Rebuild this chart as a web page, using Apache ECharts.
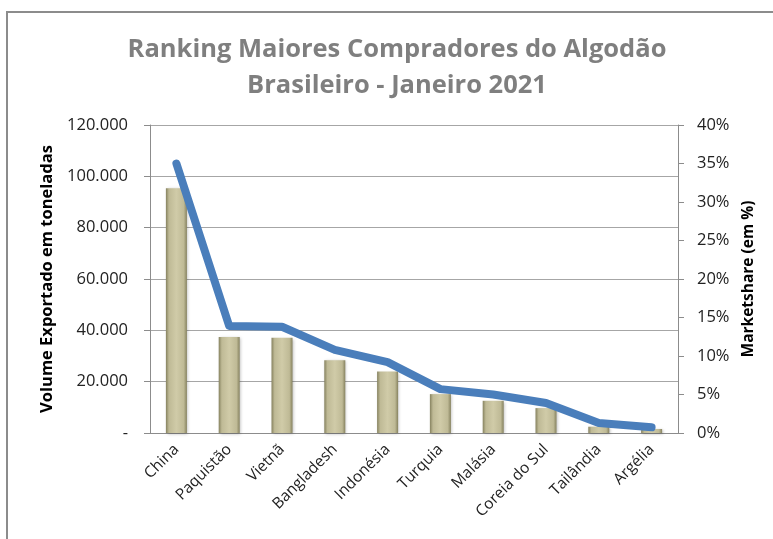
<!DOCTYPE html>
<html>
<head>
<meta charset="utf-8">
<script src="https://cdn.jsdelivr.net/npm/echarts@6/dist/echarts.min.js"></script>
<style>
  html, body { margin: 0; padding: 0; background: #fff; }
  #chart { width: 773px; height: 539px; }
</style>
</head>
<body>
<div id="chart"></div>
<script>
// países compradores
const paises = ['China', 'Paquistão', 'Vietnã', 'Bangladesh', 'Indonésia', 'Turquia', 'Malásia', 'Coreia do Sul', 'Tailândia', 'Argélia']
// volume exportado (toneladas)
const volumes = [95400, 37400, 37150, 28350, 23960, 15150, 12550, 9700, 2450, 1550]
// marketshare (%)
const marketshare = [35.0, 13.9, 13.8, 10.8, 9.2, 5.7, 5.0, 3.9, 1.3, 0.74]

const font = "'Open Sans', sans-serif"
const chart = echarts.init(document.getElementById('chart'))

const fmtMil = v => v === 0 ? '-' : String(v).replace(/\B(?=(\d{3})+(?!\d))/g, '.')

const option = {
  animation: false,
  textStyle: { fontFamily: font },
  title: {
    text: 'Ranking Maiores Compradores do Algodão\nBrasileiro - Janeiro 2021',
    left: 392,
    top: 27,
    textAlign: 'center',
    textStyle: {
      color: '#7f7f7f',
      fontSize: 25.5,
      fontWeight: 'bold',
      fontFamily: font,
      lineHeight: 36
    }
  },
  graphic: [{
    type: 'rect',
    shape: { x: 7, y: 12, width: 800, height: 560 },
    style: { fill: 'none', stroke: '#8c8c8c', lineWidth: 2 },
    silent: true
  }],
  grid: { left: 150, right: 95, top: 125, bottom: 106 },
  xAxis: {
    type: 'category',
    data: paises,
    axisLine: { lineStyle: { color: '#8c8c8c' } },
    axisTick: { length: 6, lineStyle: { color: '#8c8c8c' } },
    axisLabel: {
      rotate: 45,
      color: '#222',
      fontSize: 15.5,
      margin: 14,
      fontFamily: font
    }
  },
  yAxis: [{
    type: 'value',
    min: 0,
    max: 120000,
    interval: 20000,
    name: 'Volume Exportado em toneladas',
    nameLocation: 'middle',
    nameGap: 93,
    nameTextStyle: { color: '#000', fontSize: 16.5, fontWeight: 'bold', fontFamily: font },
    axisLine: { show: true, lineStyle: { color: '#8c8c8c' } },
    axisTick: { show: true, length: 6, lineStyle: { color: '#8c8c8c' } },
    axisLabel: { color: '#222', fontSize: 16.5, margin: 22, formatter: fmtMil, fontFamily: font },
    splitLine: { lineStyle: { color: '#a6a6a6' } }
  }, {
    type: 'value',
    min: 0,
    max: 40,
    interval: 5,
    name: 'Marketshare (em %)',
    nameLocation: 'middle',
    nameGap: 62,
    nameRotate: 90,
    nameTextStyle: { color: '#000', fontSize: 15.5, fontWeight: 'bold', fontFamily: font },
    axisLine: { show: true, lineStyle: { color: '#8c8c8c' } },
    axisTick: { show: true, length: 6, lineStyle: { color: '#8c8c8c' } },
    axisLabel: { color: '#222', fontSize: 16.5, margin: 19, formatter: '{value}%', fontFamily: font },
    splitLine: { show: false }
  }],
  series: [{
    name: 'Volume',
    type: 'bar',
    barWidth: 21,
    data: volumes,
    itemStyle: {
      color: new echarts.graphic.LinearGradient(0, 0, 1, 0, [
        { offset: 0, color: '#86825f' },
        { offset: 0.15, color: '#bfba96' },
        { offset: 0.5, color: '#d0cba8' },
        { offset: 0.85, color: '#bfba96' },
        { offset: 1, color: '#86825f' }
      ]),
      shadowColor: 'rgba(0,0,0,0.25)',
      shadowBlur: 3,
      shadowOffsetX: 1,
      shadowOffsetY: 1
    }
  }, {
    name: 'Marketshare',
    type: 'line',
    yAxisIndex: 1,
    data: marketshare,
    symbol: 'none',
    lineStyle: { color: '#4a7ebb', width: 8, cap: 'round', join: 'round' },
    z: 3
  }]
}

chart.setOption(option)
</script>
</body>
</html>
